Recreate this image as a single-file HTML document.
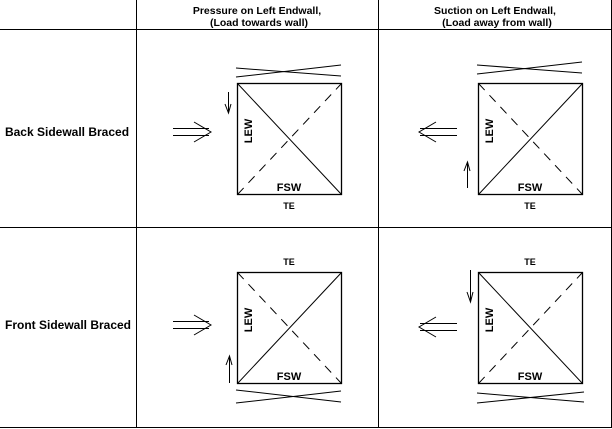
<!DOCTYPE html>
<html><head><meta charset="utf-8"><style>
html,body{margin:0;padding:0;background:#fff;width:612px;height:429px;overflow:hidden}
svg{display:block}
text{font-family:"Liberation Sans",Arial,sans-serif;font-weight:bold;fill:#000}
</style></head><body>
<svg width="612" height="429" viewBox="0 0 612 429">
<g stroke="#000" stroke-width="1" fill="none">
<line x1="136.5" y1="0" x2="136.5" y2="428"/>
<line x1="378.5" y1="0" x2="378.5" y2="428"/>
<line x1="611.5" y1="0" x2="611.5" y2="428"/>
<line x1="0" y1="29.5" x2="612" y2="29.5"/>
<line x1="0" y1="227.5" x2="612" y2="227.5"/>
<line x1="0" y1="427.5" x2="612" y2="427.5"/>
</g>
<g font-size="10.5" text-anchor="middle">
<text x="257" y="14">Pressure on Left Endwall,</text>
<text x="259" y="26">(Load towards wall)</text>
<text x="495" y="14">Suction on Left Endwall,</text>
<text x="497" y="26">(Load away from wall)</text>
</g>
<text x="67" y="136" font-size="12" text-anchor="middle">Back Sidewall Braced</text>
<text x="68" y="329" font-size="12" text-anchor="middle">Front Sidewall Braced</text>

<defs>
<g id="boxA">
<rect x="237.5" y="83.5" width="104" height="111" stroke="#000" fill="none" stroke-width="1.3"/>
<line x1="237.5" y1="83.5" x2="341.5" y2="194.5" stroke="#000"/>
<line x1="237.5" y1="194.5" x2="341.5" y2="83.5" stroke="#000" stroke-dasharray="9,7"/>
<text x="248" y="135" font-size="11" transform="rotate(-90 248 131)" text-anchor="middle">LEW</text>
<text x="289" y="191" font-size="11" text-anchor="middle">FSW</text>
</g>
<g id="boxB">
<rect x="237.5" y="83.5" width="104" height="111" stroke="#000" fill="none" stroke-width="1.3"/>
<line x1="237.5" y1="194.5" x2="341.5" y2="83.5" stroke="#000"/>
<line x1="237.5" y1="83.5" x2="341.5" y2="194.5" stroke="#000" stroke-dasharray="9,7"/>
<text x="248" y="135" font-size="11" transform="rotate(-90 248 131)" text-anchor="middle">LEW</text>
<text x="289" y="191" font-size="11" text-anchor="middle">FSW</text>
</g>
<g id="crossTop" stroke="#000" fill="none">
<line x1="236" y1="68" x2="341" y2="76"/><line x1="236" y1="77" x2="341" y2="65"/>
</g>
<g id="arrR" stroke="#000" fill="none">
<line x1="173" y1="128.5" x2="209" y2="128.5"/><line x1="173" y1="135.5" x2="209" y2="135.5"/>
<polyline points="194,122 211,132 194,142"/>
</g>
<g id="arrL" stroke="#000" fill="none">
<line x1="420" y1="128.5" x2="457" y2="128.5"/><line x1="420" y1="135.5" x2="457" y2="135.5"/>
<polyline points="436,122 419,132 436,142"/>
</g>
</defs>

<g>
<use href="#crossTop"/>
<use href="#boxA"/>
<use href="#arrR"/>
<g stroke="#000" fill="none"><line x1="228.5" y1="92" x2="228.5" y2="113"/><polyline points="225,104 228.5,113 231,104"/></g>
<text x="289" y="209" font-size="9" text-anchor="middle">TE</text>
</g>

<g transform="translate(241,0)">
<use href="#crossTop" transform="translate(0,-3)"/>
<use href="#boxB"/>
</g>
<g>
<use href="#arrL"/>
<g stroke="#000" fill="none"><line x1="467.5" y1="162" x2="467.5" y2="188"/><polyline points="464,171 467.5,162 470,171"/></g>
<text x="530" y="209" font-size="9" text-anchor="middle">TE</text>
</g>

<g transform="translate(0,189)">
<use href="#boxB"/>
</g>
<g>
<g stroke="#000" fill="none"><line x1="236" y1="390" x2="341" y2="402"/><line x1="236" y1="403" x2="341" y2="391"/></g>
<use href="#arrR" transform="translate(0,193)"/>
<g stroke="#000" fill="none"><line x1="229.5" y1="356" x2="229.5" y2="383"/><polyline points="226,365 229.5,356 232,365"/></g>
<text x="289" y="265" font-size="9" text-anchor="middle">TE</text>
</g>

<g transform="translate(241,189)">
<use href="#boxA"/>
</g>
<g>
<g stroke="#000" fill="none"><line x1="477" y1="393" x2="584" y2="402"/><line x1="477" y1="403" x2="584" y2="392"/></g>
<use href="#arrL" transform="translate(0,195)"/>
<g stroke="#000" fill="none"><line x1="470.5" y1="270" x2="470.5" y2="302"/><polyline points="467,292 470.5,302 473,292"/></g>
<text x="530" y="265" font-size="9" text-anchor="middle">TE</text>
</g>
</svg>
</body></html>
